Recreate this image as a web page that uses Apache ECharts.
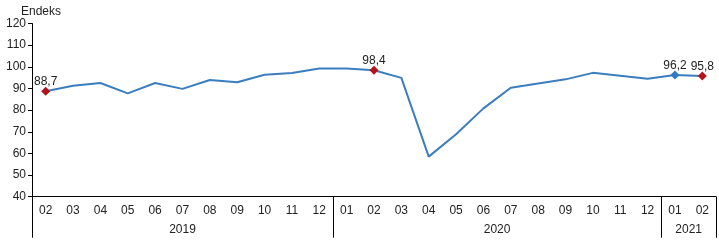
<!DOCTYPE html>
<html><head><meta charset="utf-8">
<script src="https://cdn.jsdelivr.net/npm/echarts@6/dist/echarts.min.js"></script>
<style>html,body{margin:0;padding:0;background:#fff}#c{width:719px;height:245px}</style>
</head><body><div id="c"></div>
<script>
const months = ['02','03','04','05','06','07','08','09','10','11','12','01','02','03','04','05','06','07','08','09','10','11','12','01','02'];
const values = [88.7,91.2,92.5,87.7,92.5,89.8,93.9,92.9,96.3,97.1,99.2,99.2,98.4,94.9,58.5,68.8,80.8,90.3,92.3,94.2,97.2,95.9,94.5,96.2,95.8];
const years = ['2019','2020','2021'];
const yearCounts = [11,12,2];
const yTicks = [40,50,60,70,80,90,100,110,120];
const highlighted = {0:'#B3141C',12:'#B3141C',23:'#2F7CC0',24:'#B3141C'};

const bounds=[0]; yearCounts.forEach(c=>bounds.push(bounds[bounds.length-1]+c));
const centers=yearCounts.map((c,i)=>bounds[i]+c/2);

const font='"Liberation Sans", Arial, sans-serif';
const lineColor='#3A7EBF';
const data = values.map((v,i)=>{
  if(highlighted[i]!==undefined){
    return {value:v, symbol:'diamond', symbolSize:9, itemStyle:{color:highlighted[i]},
      label:{show:true, position:'top', distance:-1, formatter:()=>String(v).replace('.',','),
        fontFamily:font, fontSize:12, color:'#222'}};
  }
  return {value:v, symbol:'none'};
});

const chart = echarts.init(document.getElementById('c'));
chart.setOption({
  animation:false,
  title:{text:'Endeks', left:16, top:1, textStyle:{fontFamily:font, fontSize:12, fontWeight:'normal', color:'#222'}},
  grid:{left:32, right:3, top:23.5, bottom:48.3, containLabel:false},
  xAxis:[{
    type:'category', data:months, boundaryGap:true,
    axisLine:{lineStyle:{color:'#000', width:1}},
    axisTick:{interval:0, length:20, lineStyle:{color:'#000'}},
    axisLabel:{interval:0, margin:8, fontFamily:font, fontSize:12, color:'#222'}
  },{
    type:'value', min:0, max:bounds[bounds.length-1], position:'bottom',
    axisLine:{show:false}, splitLine:{show:false},
    axisTick:{show:true, length:41, customValues:bounds, lineStyle:{color:'#000'}},
    axisLabel:{show:true, customValues:centers, margin:27, fontFamily:font, fontSize:12, color:'#222',
      formatter:(v)=>{const i=centers.indexOf(v); return i>=0?years[i]:'';}}
  }],
  yAxis:{type:'value', min:40, max:120, interval:10,
    axisLine:{show:true, lineStyle:{color:'#000'}},
    axisTick:{show:true, length:4, lineStyle:{color:'#000'}},
    splitLine:{show:false},
    axisLabel:{margin:6, fontFamily:font, fontSize:12, color:'#222'}
  },
  series:[{type:'line', xAxisIndex:0, data:data, lineStyle:{color:lineColor, width:2},
    itemStyle:{color:lineColor}, showSymbol:true, z:3}]
});
</script></body></html>
